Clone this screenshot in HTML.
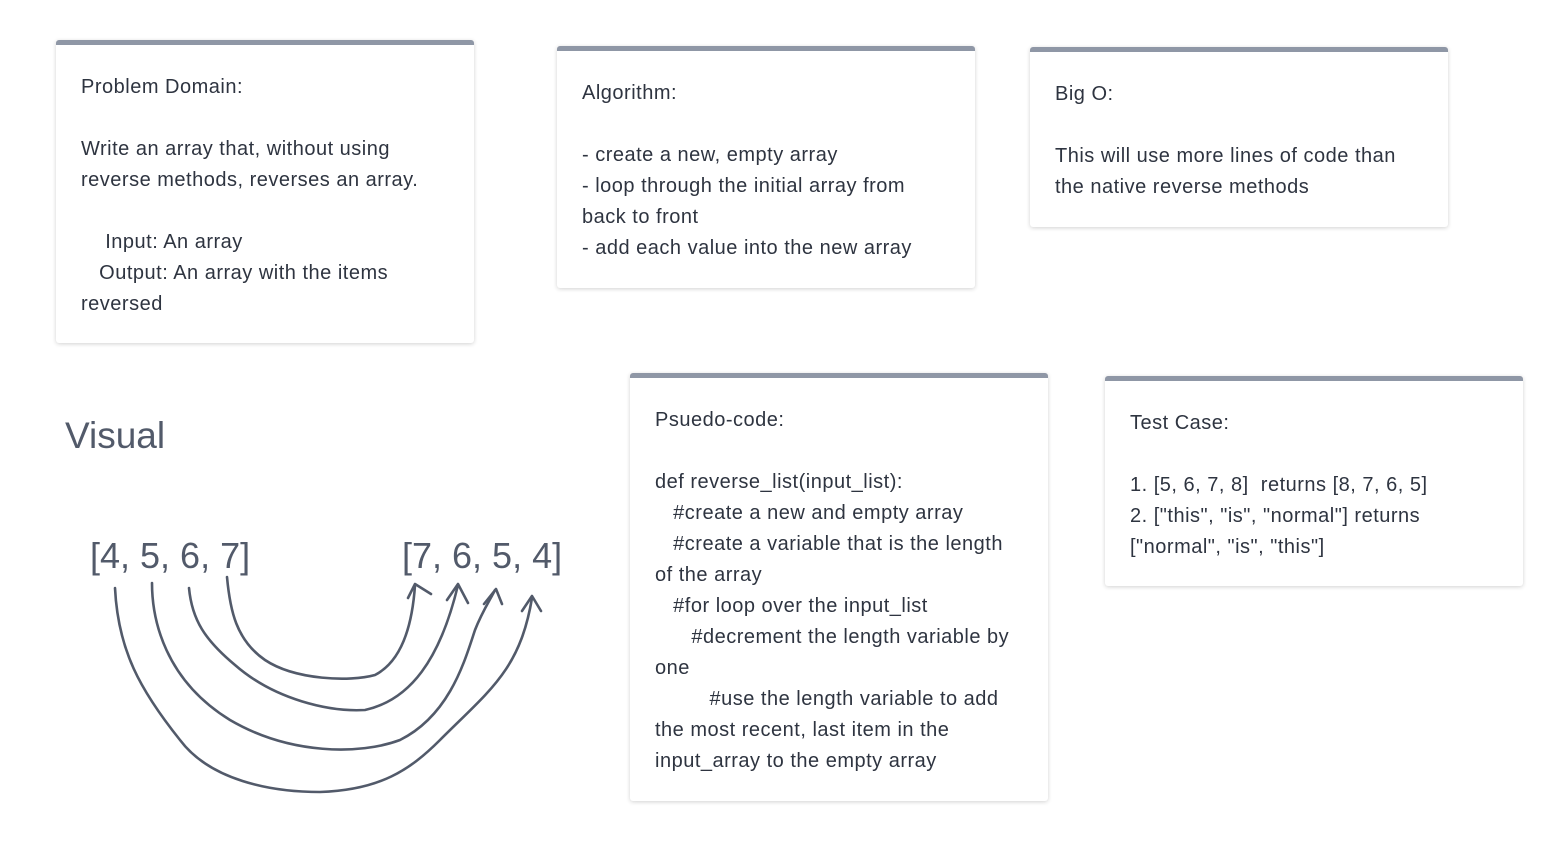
<!DOCTYPE html>
<html><head><style>
body{margin:0;width:1566px;height:856px;background:#fff;position:relative;overflow:hidden;font-family:"Liberation Sans",sans-serif;}
.card{position:absolute;width:418px;background:#fff;border-radius:3px;box-shadow:0 1px 4px rgba(0,0,0,0.18);border-top:5px solid #8f97a6;box-sizing:border-box;padding:27px 0 0 25px;font-size:20px;line-height:31px;color:#2e3440;white-space:pre;letter-spacing:0.5px;}
.t{position:absolute;color:#525a6a;}
</style></head><body>
<div class="card" style="left:56px;top:40px;height:303px;">Problem Domain:

Write an array that, without using
reverse methods, reverses an array.

    Input: An array
   Output: An array with the items
reversed</div>
<div class="card" style="left:557px;top:46px;height:242px;">Algorithm:

- create a new, empty array
- loop through the initial array from
back to front
- add each value into the new array</div>
<div class="card" style="left:1030px;top:47px;height:180px;">Big O:

This will use more lines of code than
the native reverse methods</div>
<div class="card" style="left:630px;top:373px;height:428px;">Psuedo-code:

def reverse_list(input_list):
   #create a new and empty array
   #create a variable that is the length
of the array
   #for loop over the input_list
      #decrement the length variable by
one
         #use the length variable to add
the most recent, last item in the
input_array to the empty array</div>
<div class="card" style="left:1105px;top:376px;height:210px;">Test Case:

1. [5, 6, 7, 8]  returns [8, 7, 6, 5]
2. ["this", "is", "normal"] returns
["normal", "is", "this"]</div>
<div class="t" style="left:65px;top:415px;font-size:37px;">Visual</div>
<div class="t" style="left:90px;top:535px;font-size:36px;">[4, 5, 6, 7]</div>
<div class="t" style="left:402px;top:535px;font-size:36px;">[7, 6, 5, 4]</div>
<svg width="1566" height="856" style="position:absolute;left:0;top:0" fill="none" stroke="#525a6a" stroke-width="2.6" stroke-linecap="round" stroke-linejoin="round">
<path d="M227,577 C230,610 236,640 265,660 C295,680 350,682 375,675 C400,662 412,630 415,585"/>
<path d="M408,598 L415,584 L431,594"/>
<path d="M189,588 C192,620 205,640 235,665 C275,700 330,712 365,710 C410,700 440,660 458,585"/>
<path d="M447,600 L458,584 L468,603"/>
<path d="M152,583 C152,620 165,680 230,720 C290,755 360,755 400,740 C450,715 465,660 475,630 C482,612 490,600 495,590"/>
<path d="M484,604 L496,589 L502,604"/>
<path d="M115,588 C118,650 140,690 180,740 C210,780 270,792 320,792 C380,790 410,770 440,740 C490,690 520,670 532,598"/>
<path d="M522,611 L532,596 L541,611"/>
</svg>
</body></html>
